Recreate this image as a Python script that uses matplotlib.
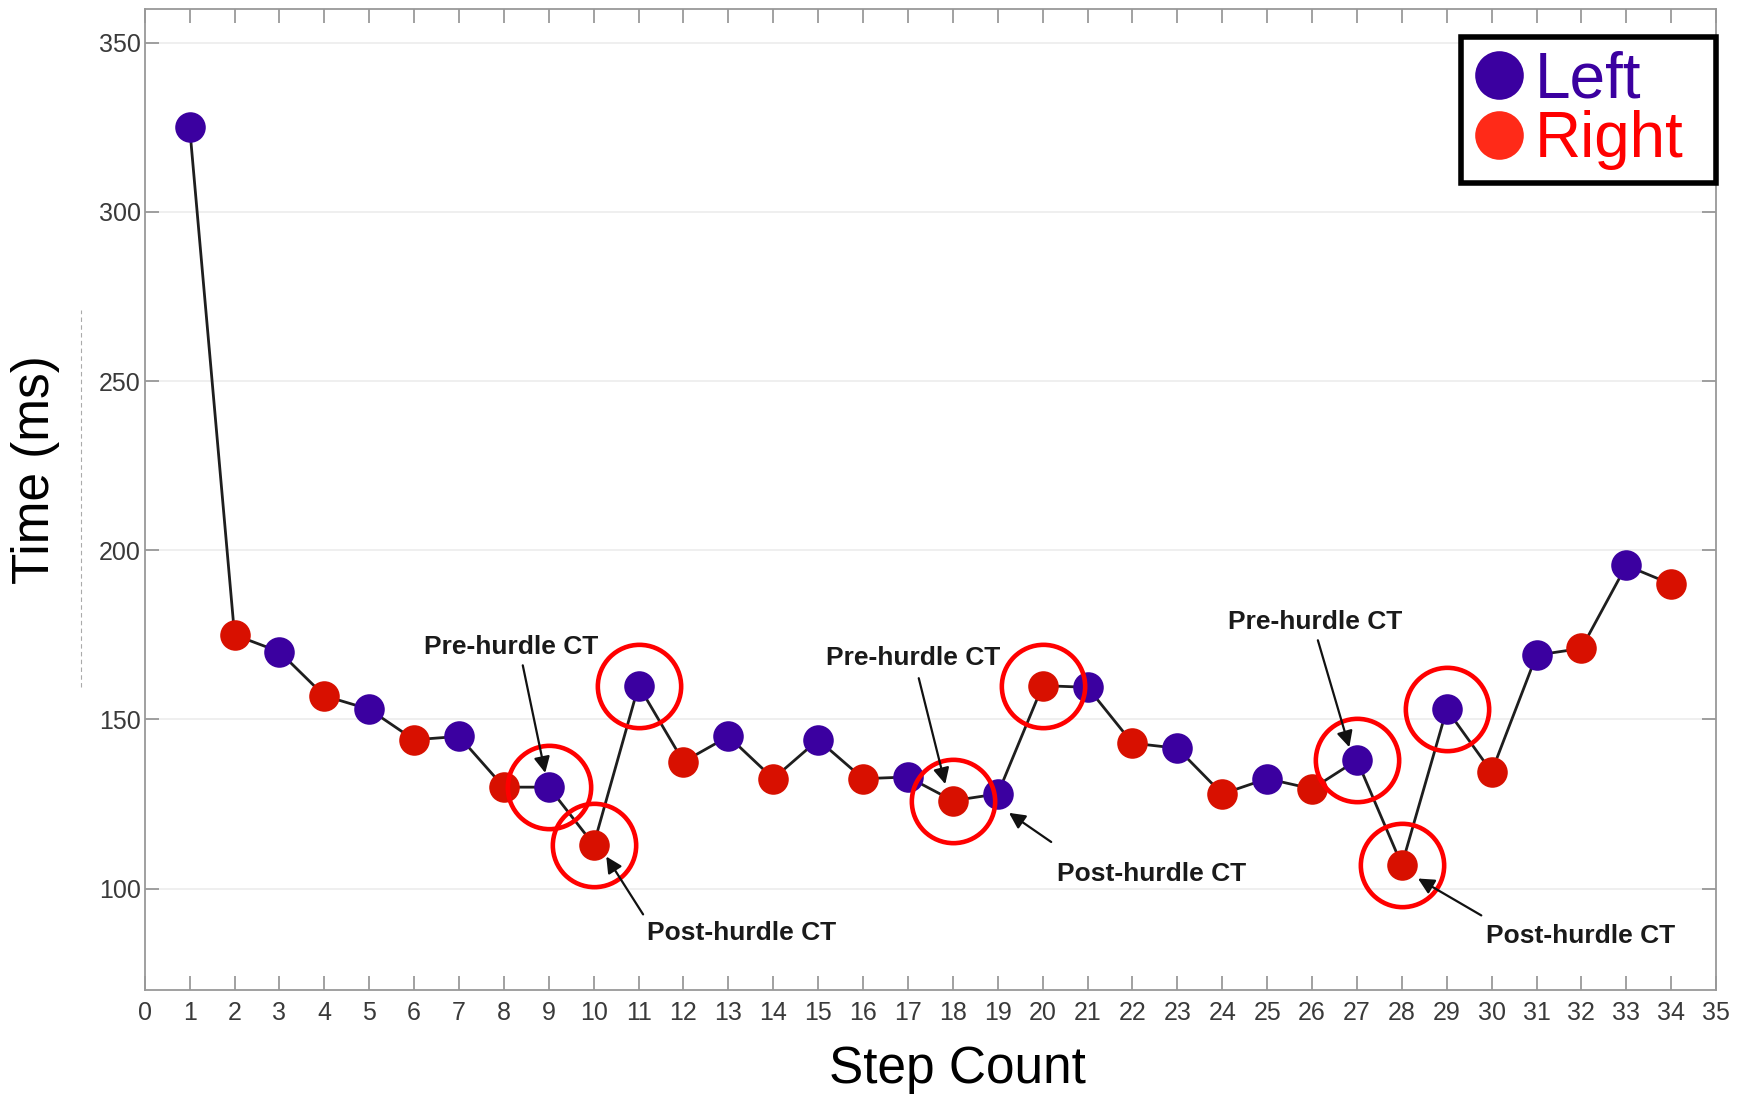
import matplotlib
matplotlib.use("Agg")
import matplotlib.pyplot as plt
from matplotlib.lines import Line2D

plt.rcParams['font.family'] = ['Liberation Sans', 'DejaVu Sans']

# contact time per step
steps = list(range(1, 35))
tiempos = [325, 175, 170, 157, 153, 144, 145, 130, 130, 113,
           160, 137.5, 145, 132.5, 144, 132.5, 133, 126, 128, 160,
           159.5, 143, 141.5, 128, 132.5, 129.5, 138, 107, 153, 134.5,
           169, 171, 195.5, 190]
# left foot on odd steps, right foot on even steps
pie = ['L' if s % 2 == 1 else 'R' for s in steps]

# steps around each hurdle
marcados = [9, 10, 11, 18, 20, 27, 28, 29]

# (texto, posicion texto, cola flecha, punta flecha)
notas = [
    ("Pre-hurdle CT", (8.17, 171.4), (8.42, 166.0), (8.92, 134.2)),
    ("Post-hurdle CT", (13.3, 86.8), (11.1, 92.4), (10.28, 109.5)),
    ("Pre-hurdle CT", (17.12, 168.1), (17.24, 162.2), (17.83, 130.9)),
    ("Post-hurdle CT", (22.42, 104.3), (20.19, 113.8), (19.25, 122.4)),
    ("Pre-hurdle CT", (26.06, 178.9), (26.13, 173.4), (26.83, 141.8)),
    ("Post-hurdle CT", (31.98, 85.9), (29.77, 92.1), (28.36, 103.0)),
]

morado = '#3b00a0'
rojo = '#d81000'

fig = plt.figure(figsize=(17.44, 10.99), dpi=100)
ax = fig.add_axes([0.083, 0.099, 0.901, 0.893])

ax.plot(steps, tiempos, color='#1e1e1e', lw=2.0, zorder=2)
for s, t, p in zip(steps, tiempos, pie):
    ax.plot(s, t, 'o', ms=22, color=morado if p == 'L' else rojo,
            mec='none', zorder=3)

for s in marcados:
    ax.plot(s, tiempos[s - 1], 'o', ms=60, mfc='none', mec='#ff0000',
            mew=3.3, zorder=4)

for texto, pos, cola, punta in notas:
    ax.text(pos[0], pos[1], texto, ha='center', va='center',
            fontsize=19, fontweight='bold', color='#1a1a1a', zorder=5)
    ax.annotate('', xy=punta, xytext=cola,
                arrowprops=dict(arrowstyle='-|>', color='#111111', lw=1.6,
                                mutation_scale=24, shrinkA=0, shrinkB=0),
                zorder=5)

ax.set_xlim(0, 35)
ax.set_ylim(70, 360)
ax.set_xticks(range(0, 36))
ax.set_yticks([100, 150, 200, 250, 300, 350])
ax.yaxis.grid(True, color='#ececec', lw=1.2)
ax.set_axisbelow(True)

ax.tick_params(direction='in', length=10, width=1.1, color='#888888',
               labelcolor='#3a3a3a', labelsize=18, top=True, right=True)
ax.tick_params(axis='x', pad=8)
ax.tick_params(axis='y', pad=3)
for sp in ax.spines.values():
    sp.set_color('#999999')
    sp.set_linewidth(1.3)

ax.set_xlabel("Step Count", fontsize=37)
ax.set_ylabel("Time (ms)", fontsize=37)
ax.xaxis.set_label_coords(0.517, -0.056)
ax.yaxis.set_label_coords(-0.054, 0.53)

manejadores = [
    Line2D([], [], marker='o', ls='none', ms=35, color=morado, mec='none'),
    Line2D([], [], marker='o', ls='none', ms=35, color='#ff2a18', mec='none'),
]
leg = ax.legend(manejadores, ["Left", "Right"], loc='upper right',
                bbox_to_anchor=(0.8377, 0.5, 0.1623, 0.471), mode='expand',
                borderaxespad=0, fontsize=46,
                labelcolor=[morado, '#ff0000'], fancybox=False, framealpha=1,
                handlelength=0.8, handletextpad=0.15, labelspacing=0.0,
                borderpad=0.2)
leg.get_frame().set_edgecolor('black')
leg.get_frame().set_linewidth(4.0)

# linea discontinua suelta junto al eje y
fig.add_artist(Line2D([0.0464, 0.0464], [0.375, 0.718], color='#aaaaaa',
                      lw=0.8, ls=(0, (4, 3))))

fig.savefig("out.png", dpi=100)
